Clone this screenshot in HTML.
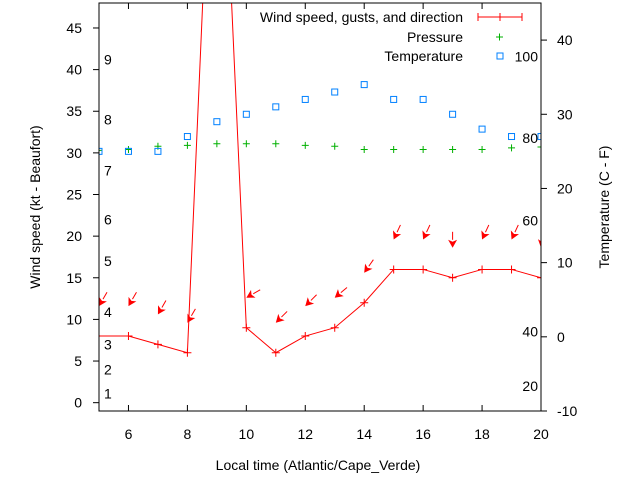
<!DOCTYPE html>
<html><head><meta charset="utf-8"><style>
body{margin:0;background:#fff;}
svg{display:block;font-family:"Liberation Sans",sans-serif;font-size:14px;}
</style></head><body>
<svg id="chart" width="640" height="480" viewBox="0 0 640 480"></svg>
<script>
const hours=[5,6,7,8,9,10,11,12,13,14,15,16,17,18,19,20];
const windKt=[8,8,7,6,87,9,6,8,9,12,16,16,15,16,16,15];
const windDir=[30,30,30,30,null,60,45,45,50,35,25,25,0,25,25,10];
const pressure=[30.3,30.4,30.8,30.9,31.1,31.1,31.1,30.9,30.8,30.4,30.4,30.4,30.4,30.4,30.6,30.7];
const tempC=[25,25,25,27,29,30,31,32,33,34,32,32,30,28,27,27];
const xTicks=[6,8,10,12,14,16,18,20];
const yTicks=[0,5,10,15,20,25,30,35,40,45];
const y2Ticks=[-10,0,10,20,30,40];
const beaufort=[[1,1.1],[2,4],[3,7],[4,10.9],[5,17],[6,22],[7,27.9],[8,34],[9,41.2]];
const fahr=[[20,-6.6],[40,0.7],[60,15.7],[80,26.8],[100,37.8]];
const L=99,R=541,T=3,B=411;
const X=v=>L+(v-5)/15*(R-L);
const Y=v=>B-(v+1)/49*(B-T);
const Y2=v=>B-(v+10)/55*(B-T);
const svg=document.getElementById('chart');
const NS='http://www.w3.org/2000/svg';
function mk(tag,attrs,parent){const e=document.createElementNS(NS,tag);for(const k in attrs)e.setAttribute(k,attrs[k]);(parent||svg).appendChild(e);return e;}
const defs=mk('defs',{});
const cp=mk('clipPath',{id:'clip'},defs);mk('rect',{x:L,y:T,width:R-L,height:B-T},cp);
const plot=mk('g',{'clip-path':'url(#clip)'});


const frame=mk('rect',{x:L,y:T,width:R-L,height:B-T,fill:'none',stroke:'#000','stroke-width':1});


xTicks.forEach(v=>{
 mk('line',{x1:X(v),x2:X(v),y1:B,y2:B-6,stroke:'#000'});
 mk('line',{x1:X(v),x2:X(v),y1:T,y2:T+6,stroke:'#000'});
 const t=mk('text',{x:X(v),y:439,'text-anchor':'middle',fill:'#000'});t.textContent=v;
 
 
});
yTicks.forEach(v=>{
 mk('line',{x1:L-6,x2:L,y1:Y(v),y2:Y(v),stroke:'#000'});
 const t=mk('text',{x:L-17,y:Y(v)+5,'text-anchor':'end',fill:'#000'});t.textContent=v;
 
 
});
y2Ticks.forEach(v=>{
 mk('line',{x1:R,x2:R+6,y1:Y2(v),y2:Y2(v),stroke:'#000'});
 const t=mk('text',{x:R+16,y:Y2(v)+5,'text-anchor':'start',fill:'#000'});t.textContent=v;
 
 
});
beaufort.forEach(([n,v])=>{const t=mk('text',{x:104,y:Y(v)+5,fill:'#000'});t.textContent=n;
 
 });
fahr.forEach(([n,v])=>{const t=mk('text',{x:538,y:Y2(v)+5,'text-anchor':'end',fill:'#000'});t.textContent=n;
 
 });
let t=mk('text',{x:318,y:470,'text-anchor':'middle',fill:'#000'});t.textContent='Local time (Atlantic/Cape_Verde)';


t=mk('text',{x:0,y:0,'text-anchor':'middle',fill:'#000',transform:'translate(40,207) rotate(-90)'});t.textContent='Wind speed (kt - Beaufort)';


t=mk('text',{x:0,y:0,'text-anchor':'middle',fill:'#000',transform:'translate(609,207) rotate(-90)'});t.textContent='Temperature (C - F)';


const wl=mk('polyline',{points:hours.map((h,i)=>X(h)+','+Y(windKt[i])).join(' '),fill:'none',stroke:'#f00','stroke-width':1},plot);


hours.forEach((h,i)=>{const g=mk('path',{d:`M${X(h)-4},${Y(windKt[i])}h8M${X(h)},${Y(windKt[i])-4}v8`,stroke:'#f00'},plot);
 
 });
hours.forEach((h,i)=>{if(windDir[i]===null)return;const v=windKt[i]+3.6;if(v>48)return;
 const a=windDir[i]*Math.PI/180,tx=X(h),ty=Y(v),len=16;
 const sx=tx+len*Math.sin(a),sy=ty-len*Math.cos(a);
 const ux=(tx-sx)/len,uy=(ty-sy)/len,hl=8,hw=4.5;
 const bx=tx-ux*hl,by=ty-uy*hl;
 const g=mk('g',{},plot);
 
 
 mk('line',{x1:sx,y1:sy,x2:bx,y2:by,stroke:'#f00'},g);
 mk('polygon',{points:`${tx},${ty} ${bx-uy*hw},${by+ux*hw} ${bx+ux*2},${by+uy*2} ${bx+uy*hw},${by-ux*hw}`,fill:'#f00'},g);
});
hours.forEach((h,i)=>{const g=mk('path',{d:`M${X(h)-3.5},${Y(pressure[i])}h7M${X(h)},${Y(pressure[i])-3.5}v7`,stroke:'#00b000'},plot);
 
 });
hours.forEach((h,i)=>{const g=mk('rect',{x:X(h)-3,y:Y2(tempC[i])-3,width:6,height:6,fill:'none',stroke:'#0080ff'},plot);
 
 });
const lg=mk('g',{});


[['Wind speed, gusts, and direction',22],['Pressure',42],['Temperature',61]].forEach(([s,y])=>{const e=mk('text',{x:463,y:y,'text-anchor':'end',fill:'#000'},lg);e.textContent=s;
 
 });
mk('path',{d:'M478,17h44M478,13v8M500,13v8M522,13v8',stroke:'#f00'},lg);
mk('path',{d:'M496,37h7M499.5,33.5v7',stroke:'#00b000'},lg);
mk('rect',{x:497,y:53,width:6,height:6,fill:'none',stroke:'#0080ff'},lg);
</script>
</body></html>
